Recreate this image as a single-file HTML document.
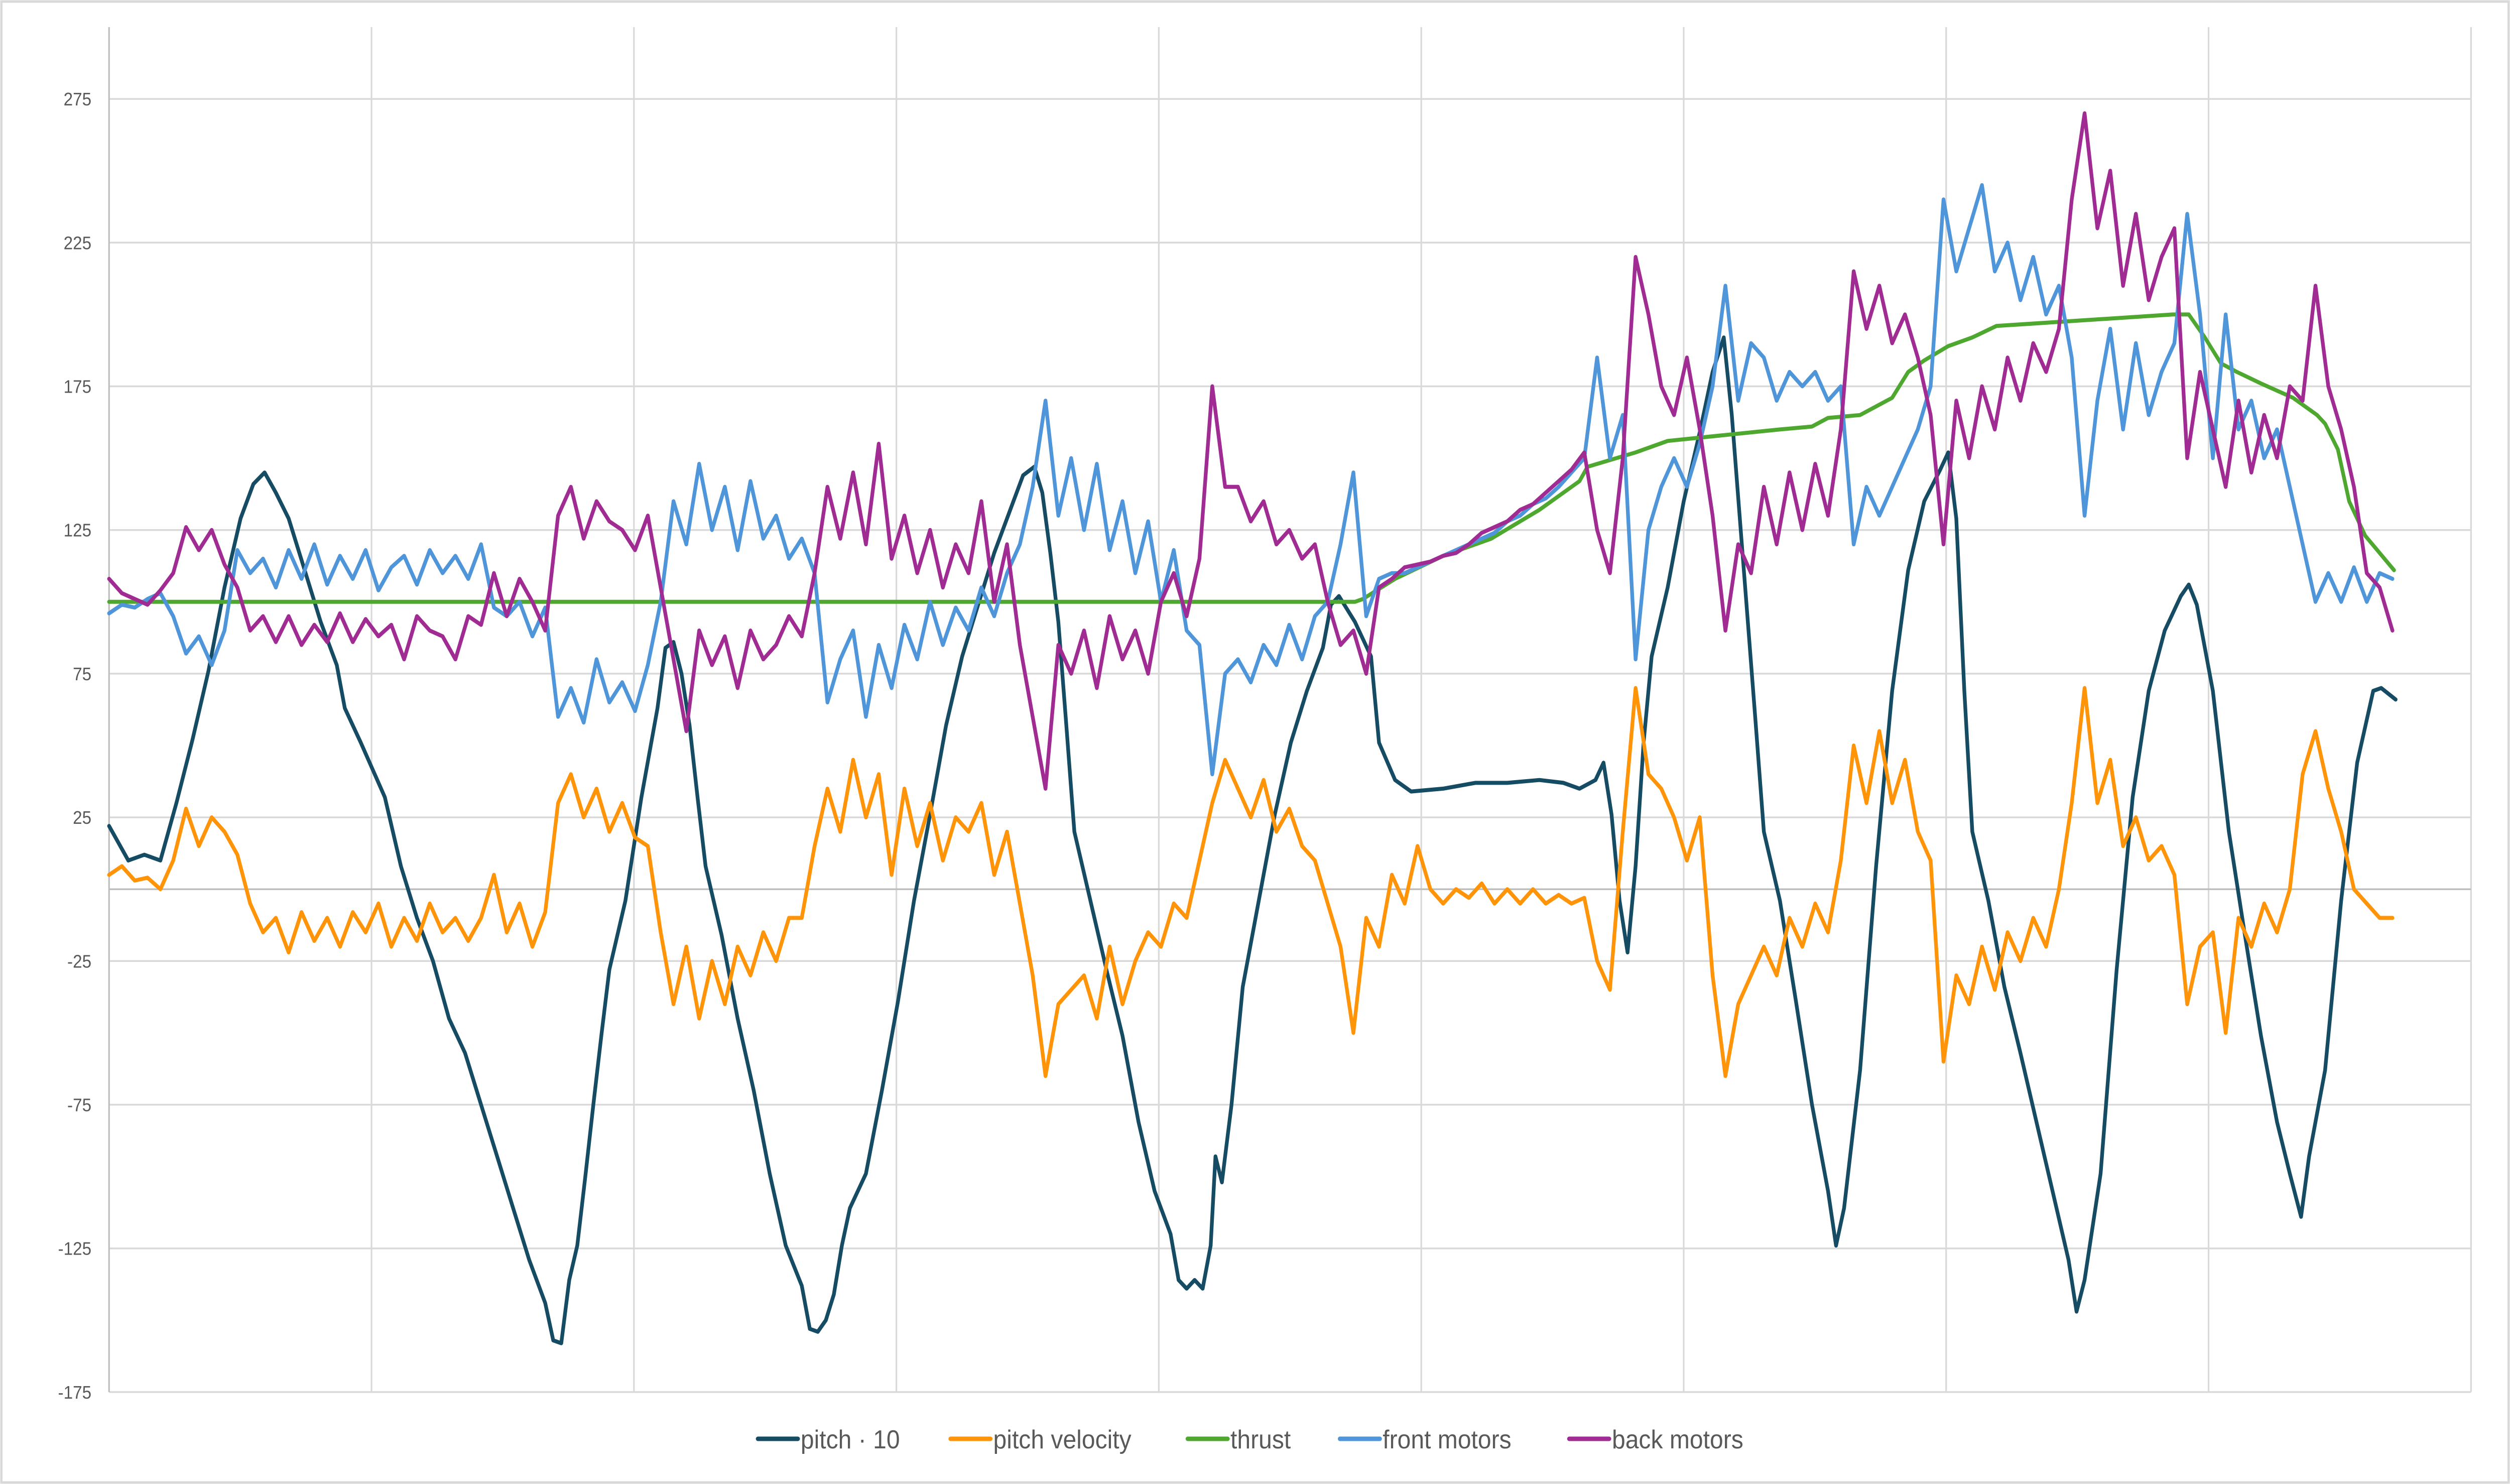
<!DOCTYPE html>
<html><head><meta charset="utf-8"><title>Pitch chart</title>
<style>html,body{margin:0;padding:0;background:#fff;width:100%;height:100%;overflow:hidden}svg{display:block;width:100vw;height:100vh}</style></head>
<body>
<svg id="chart" viewBox="0 0 5408 2956" preserveAspectRatio="none" xmlns="http://www.w3.org/2000/svg" font-family="'Liberation Sans', sans-serif">
<rect x="3" y="3" width="5402" height="2950" fill="#fff" stroke="#d9d9d9" stroke-width="5"/>
<g id="grid"></g>
<g id="yticks"></g>
<g id="series"></g>
<g id="legend"></g>
</svg>
<script>
// ---- data ----
const yTicks = [275,225,175,125,75,25,-25,-75,-125,-175];
const sampleStep = 8; // time units between samples of noisy series
const pitchT = [0,12,22,32,42,52,62,72,82,90,97,104,112,122,132,142,147,157,172,182,192,202,212,222,232,242,252,262,272,277,282,287,292,297,302,307,312,322,332,342,347,352,357,362,367,372,382,392,402,412,422,432,437,442,447,452,457,462,472,482,492,502,512,522,532,542,552,562,570,577,582,587,592,597,602,612,622,632,642,652,662,667,672,677,682,687,690,694,700,707,717,727,737,747,757,762,767,777,787,792,802,812,832,852,872,892,907,917,927,932,937,942,947,952,957,962,972,982,992,1000,1007,1012,1017,1022,1027,1032,1042,1052,1062,1072,1077,1082,1092,1102,1112,1122,1132,1142,1147,1152,1157,1162,1172,1182,1192,1202,1212,1222,1227,1232,1242,1252,1262,1272,1282,1292,1297,1302,1312,1322,1332,1342,1352,1360,1367,1372,1382,1392,1402,1412,1417,1426];
const pitchV = [22,10,12,10,30,52,76,105,129,141,145,138,129,111,93,78,63,51,32,8,-10,-25,-45,-57,-75,-93,-111,-129,-144,-157,-158,-136,-124,-100,-75,-51,-28,-4,32,63,84,86,75,57,32,8,-16,-45,-70,-99,-124,-138,-153,-154,-150,-141,-124,-111,-99,-70,-39,-4,26,57,81,99,117,132,144,147,138,117,93,57,20,-4,-28,-51,-81,-105,-120,-136,-139,-136,-139,-124,-93,-102,-75,-34,-4,26,51,69,84,99,102,93,81,51,38,34,35,37,37,38,37,35,38,44,26,-4,-22,8,51,81,105,135,159,180,192,165,129,93,57,20,-4,-39,-75,-105,-124,-111,-63,8,69,111,135,146,152,129,69,20,-4,-34,-57,-81,-105,-129,-147,-136,-99,-28,32,69,90,102,106,99,69,20,-16,-51,-81,-99,-114,-93,-63,-4,44,69,70,66,61];
const velocityV = [5,8,3,4,0,10,28,15,25,20,12,-5,-15,-10,-22,-8,-18,-10,-20,-8,-15,-5,-20,-10,-18,-5,-15,-10,-18,-10,5,-15,-5,-20,-8,30,40,25,35,20,30,18,15,-15,-40,-20,-45,-25,-40,-20,-30,-15,-25,-10,-10,15,35,20,45,25,40,5,35,15,30,10,25,20,30,5,20,-5,-30,-65,-40,-35,-30,-45,-20,-40,-25,-15,-20,-5,-10,10,30,45,35,25,38,20,28,15,10,-5,-20,-50,-10,-20,5,-5,15,0,-5,0,-3,2,-5,0,-5,0,-5,-2,-5,-3,-25,-35,20,70,40,35,25,10,25,-30,-65,-40,-30,-20,-30,-10,-20,-5,-15,10,50,30,55,30,45,20,10,-60,-30,-40,-20,-35,-15,-25,-10,-20,0,30,70,30,45,15,25,10,15,5,-40,-20,-15,-50,-10,-20,-5,-15,0,40,55,35,20,0,-5,-10,-10];
const thrustT = [0,777,782,802,832,862,892,917,922,952,972,1007,1042,1062,1072,1092,1102,1112,1122,1132,1147,1162,1177,1287,1297,1307,1317,1327,1342,1362,1377,1382,1390,1397,1407,1425];
const thrustV = [100,100,101,108,116,122,132,142,147,152,156,158,160,161,164,165,168,171,180,184,189,192,196,200,200,192,183,180,176,171,165,162,153,135,123,111,105];
const frontV = [96,99,98,101,103,95,82,88,78,90,118,110,115,105,118,108,120,106,116,108,118,104,112,116,106,118,110,116,108,120,98,95,100,88,98,60,70,58,80,65,72,62,78,100,135,120,148,125,140,118,142,122,130,115,122,110,65,80,90,60,85,70,92,80,100,85,98,90,105,95,110,120,140,170,130,150,125,148,118,135,110,128,100,118,90,85,40,75,80,72,85,78,92,80,95,100,120,145,95,108,110,110,112,114,116,118,120,122,124,128,130,134,136,140,145,150,185,150,165,80,125,140,150,140,155,175,210,170,190,185,170,180,175,180,170,175,120,140,130,140,150,160,175,240,215,230,245,215,225,205,220,200,210,185,130,170,195,160,190,165,180,190,235,200,150,200,160,170,150,160,140,120,100,110,100,112,100,110,108];
const backV = [108,103,101,99,104,110,126,118,125,113,105,90,95,86,95,85,92,86,96,86,94,88,92,80,95,90,88,80,95,92,110,95,108,100,90,130,140,122,135,128,125,118,130,105,80,55,90,78,88,70,90,80,85,95,88,110,140,122,145,120,155,115,130,110,125,105,120,110,135,100,120,85,60,35,85,75,90,70,95,80,90,75,100,110,95,115,175,140,140,128,135,120,125,115,120,100,85,90,75,105,108,112,113,114,116,117,120,124,126,128,132,134,138,142,146,152,125,110,150,220,200,175,165,185,160,130,90,120,110,140,120,145,125,148,130,160,215,195,210,190,200,185,165,120,170,150,175,160,185,170,190,180,195,240,270,230,250,210,235,205,220,230,150,180,160,140,170,145,165,150,175,170,210,175,160,140,110,105,90];

// ---- axes ----
const X0 = 235, X1 = 5324, TMAX = 1473, YTOP = 54, PXU = 5.724, VMAX = 300;
function xs(t){ return X0 + t * (X1 - X0) / TMAX; }
function ys(v){ return YTOP + (VMAX - v) * PXU; }
const NS = 'http://www.w3.org/2000/svg';
function mk(tag, attrs, parent){ const e = document.createElementNS(NS, tag); for (const k in attrs) e.setAttribute(k, attrs[k]); parent.appendChild(e); return e; }

const grid = document.getElementById('grid');
for (let k = 1; k <= 9; k++) {
  const gx = xs(k * TMAX / 9);
  const l = mk('line', {x1: gx, x2: gx, y1: YTOP, y2: ys(-175), stroke: '#d9d9d9', 'stroke-width': 3.5}, grid);
  
  
}
const yl = document.getElementById('yticks');
yTicks.forEach(v => {
  const gy = ys(v);
  const l = mk('line', {x1: X0, x2: X1, y1: gy, y2: gy, stroke: '#d9d9d9', 'stroke-width': 3.5}, grid);
  
  
  const t = mk('text', {x: 197, y: gy + 13, 'text-anchor': 'end', 'font-size': 36, fill: '#595959'}, yl);
  t.textContent = v;
  
  
});
const zero = mk('line', {x1: X0, x2: X1, y1: ys(0), y2: ys(0), stroke: '#bfbfbf', 'stroke-width': 3.5}, grid);


const yax = mk('line', {x1: X0, x2: X0, y1: YTOP, y2: ys(-175), stroke: '#bfbfbf', 'stroke-width': 3.5}, grid);



// ---- series ----
const ser = document.getElementById('series');
function path(ts, vs, color, name){
  let d = '';
  for (let i = 0; i < vs.length; i++) d += (i ? 'L' : 'M') + xs(ts(i)).toFixed(1) + ' ' + ys(vs[i]).toFixed(1);
  const p = mk('path', {d: d, fill: 'none', stroke: color, 'stroke-width': 8, 'stroke-linejoin': 'round', 'stroke-linecap': 'round'}, ser);
  
  
}
path(i => pitchT[i], pitchV, '#154b63', 'pitch-line');
path(i => i * sampleStep, velocityV, '#ff9408', 'pitch-velocity-line');
path(i => thrustT[i], thrustV, '#4ea72e', 'thrust-line');
path(i => i * sampleStep, frontV, '#4e95d9', 'front-motors-line');
path(i => i * sampleStep, backV, '#a02b93', 'back-motors-line');

// ---- legend ----
const legendNames = ['pitch · 10','pitch velocity','thrust','front motors','back motors'];
const legendColors = ['#154b63','#ff9408','#4ea72e','#4e95d9','#a02b93'];
const legendX = [1633, 2048, 2559, 2887, 3381];
const lg = document.getElementById('legend');
legendNames.forEach((n, i) => {
  const g = mk('g', {}, lg);
  
  
  mk('line', {x1: legendX[i], x2: legendX[i] + 86, y1: 2866, y2: 2866, stroke: legendColors[i], 'stroke-width': 9, 'stroke-linecap': 'round'}, g);
  const t = mk('text', {x: legendX[i] + 92, y: 2885, 'font-size': 52, fill: '#595959'}, g);
  t.textContent = n;
});
</script>
</body></html>
